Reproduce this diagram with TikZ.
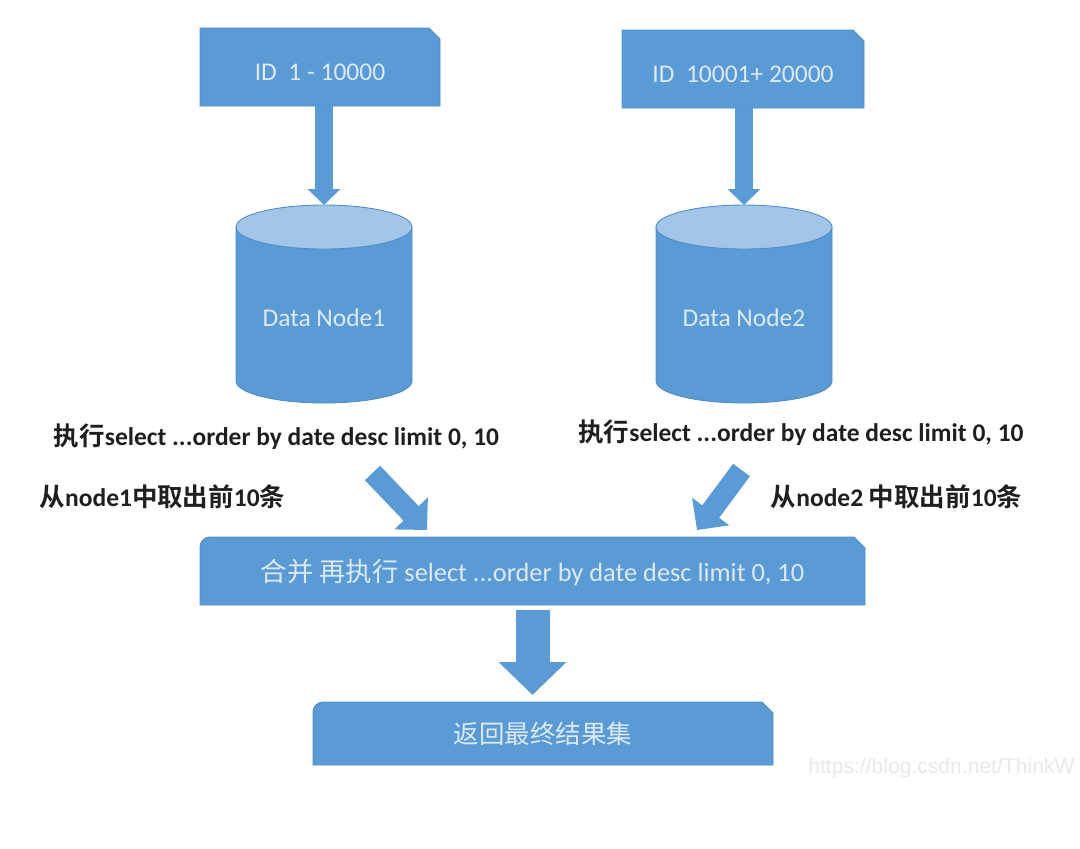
\documentclass[tikz,border=0pt]{standalone}
\usepackage{fontspec}
\setmainfont{Carlito}
\newfontfamily\cjk{Noto Sans CJK SC}[BoldFont={Noto Sans CJK SC Bold}]
\newfontfamily\urlfont{Liberation Sans}
\usetikzlibrary{arrows.meta,backgrounds}

\definecolor{flowblue}{HTML}{5B9BD5}
\definecolor{edgeblue}{HTML}{4F8DC8}
\definecolor{lidblue}{HTML}{A2C5E8}
\definecolor{paletext}{HTML}{DDE9F5}

\tikzset{
  tagbox/.style={inner sep=0pt, outer sep=0pt, text=paletext, font=\fontsize{14.5}{17}\selectfont},
  database/.style={minimum width=3.52cm, minimum height=3.96cm, inner sep=0pt, outer sep=0pt},
  dbtext/.style={text=paletext, font=\fontsize{14.5}{17}\selectfont, yshift=-0.28cm},
  sqltext/.style={inner sep=0pt, text=black!88, font=\bfseries\fontsize{14.5}{17}\selectfont},
  feed/.style={draw=flowblue, line width=0.36cm, -{Triangle[width=0.64cm,length=0.32cm]}},
  pick/.style={draw=flowblue, line width=0.42cm, -{Triangle[width=0.9cm,length=0.46cm]}},
  collect/.style={draw=flowblue, line width=0.68cm, -{Triangle[width=1.32cm,length=0.66cm]}}
}

% box with a cut top right corner, drawn behind node #1
\newcommand{\tagshape}[2]{%
  \begin{scope}[on background layer]
    \filldraw[fill=flowblue, draw=edgeblue, line width=0.5pt]
      (#1.south west) [#2] -- (#1.north west) [sharp corners]
      -- ([xshift=-0.22cm]#1.north east) -- ([yshift=-0.22cm]#1.north east)
      -- (#1.south east) -- cycle;
  \end{scope}}

% cylinder drawn behind node #1
\newcommand{\dbshape}[1]{%
  \begin{scope}[on background layer]
    \filldraw[fill=flowblue, draw=edgeblue, line width=0.5pt]
      ([yshift=-0.44cm]#1.north west) -- ([yshift=0.44cm]#1.south west)
      arc[start angle=180, end angle=360, x radius=1.76cm, y radius=0.44cm]
      -- ([yshift=-0.44cm]#1.north east) -- cycle;
    \filldraw[fill=lidblue, draw=edgeblue, line width=0.5pt]
      ([yshift=-0.44cm]#1.north) ellipse [x radius=1.76cm, y radius=0.44cm];
  \end{scope}}

\begin{document}
\begin{tikzpicture}
  \useasboundingbox (0,0) rectangle (21.6,-16.96);

  % id ranges
  \node[tagbox, minimum width=4.8cm, minimum height=1.56cm, text height=14.8pt, text depth=0pt] (id1) at (6.4,-1.34) {ID~~1 - 10000};
  \node[tagbox, minimum width=4.84cm, minimum height=1.56cm, text height=14.8pt, text depth=0pt] (id2) at (14.86,-1.38) {ID~~10001+ 20000};
  \tagshape{id1}{sharp corners}
  \tagshape{id2}{sharp corners}

  % data nodes
  \node[database, label={[dbtext]center:Data Node1}] (dn1) at (6.48,-6.08) {};
  \node[database, label={[dbtext]center:Data Node2}] (dn2) at (14.88,-6.08) {};
  \dbshape{dn1}
  \dbshape{dn2}

  \draw[feed] (id1.south -| dn1.center) -- (dn1.north);
  \draw[feed] (id2.south -| dn2.center) -- (dn2.north);

  % queries
  \node[sqltext] (q1) at (5.53,-8.74) {{\cjk 执行}select ...order by date desc limit 0, 10};
  \node[sqltext] (q2) at (16.02,-8.66) {{\cjk 执行}select ...order by date desc limit 0, 10};
  \node[sqltext] (take1) at (3.25,-9.94) {{\cjk 从}node1{\cjk 中取出前}10{\cjk 条}};
  \node[sqltext] (take2) at (17.93,-9.94) {{\cjk 从}node2 {\cjk 中取出前}10{\cjk 条}};

  % merge
  \node[tagbox, font=\fontsize{15}{17}\selectfont, minimum width=13.3cm, minimum height=1.36cm, text height=12.4pt, text depth=0pt] (merge) at (10.65,-11.42) {{\cjk 合并 再执行} select ...order by date desc limit 0, 10};
  \tagshape{merge}{rounded corners=0.2cm}

  \coordinate (s1) at (7.45,-9.46);
  \coordinate (s2) at (14.83,-9.4);
  \draw[pick] (s1) -- ([shift={(4.54,0.14)}]merge.north west);
  \draw[pick] (s2) -- ([shift={(-3.36,0.14)}]merge.north east);

  % result
  \node[tagbox, minimum width=9.2cm, minimum height=1.26cm] (res) at (10.86,-14.67) {{\cjk 返回最终结果集}};
  \tagshape{res}{rounded corners=0.2cm}

  \draw[collect, shorten <=0.1cm, shorten >=0.14cm] (merge.south) -- (merge.south |- res.north);

  \node[anchor=west, inner sep=0pt, text=black!9, font=\urlfont\fontsize{12}{14}\selectfont] (wm) at (16.16,-15.36) {https://blog.csdn.net/ThinkW};
\end{tikzpicture}
\end{document}
